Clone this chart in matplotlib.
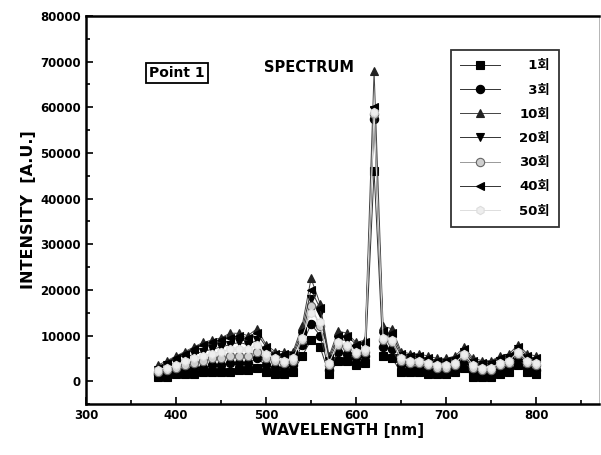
import matplotlib
matplotlib.use("Agg")
import matplotlib.pyplot as plt
from matplotlib.ticker import MultipleLocator

plt.rcParams['font.family'] = ['DejaVu Sans', 'Noto Sans CJK KR']

wavelength = [380, 390, 400, 410, 420, 430, 440, 450, 460, 470, 480, 490, 500,
              510, 520, 530, 540, 550, 560, 570, 580, 590, 600, 610, 620, 630,
              640, 650, 660, 670, 680, 690, 700, 710, 720, 730, 740, 750, 760,
              770, 780, 790, 800]

s1 = [1000, 1000, 1500, 1500, 1500, 2000, 2000, 2000, 2000, 2500, 2500, 3000, 2000,
      1500, 1500, 2000, 5500, 9000, 7500, 1500, 4500, 4500, 3500, 4000, 46000, 5500,
      5000, 2000, 2000, 2000, 1500, 1500, 1500, 2000, 3000, 1000, 1000, 1000, 1500,
      2000, 3500, 2000, 1500]
s3 = [1500, 2000, 2000, 2500, 3000, 3000, 3500, 3500, 4000, 4000, 4000, 5000, 3500,
      3000, 3000, 3500, 8000, 12500, 10000, 2500, 6500, 6000, 5000, 5500, 57500, 7500,
      7000, 3500, 3000, 3000, 2500, 2500, 2500, 3000, 4500, 2000, 2000, 2000, 2500,
      3000, 5000, 3000, 2500]
s10 = [3500, 4500, 5500, 6500, 7500, 8500, 9000, 9500, 10500, 10500, 10000, 11500, 8000,
       6500, 6500, 6500, 12000, 22500, 17000, 5500, 11000, 10500, 8500, 9000, 68000, 12000,
       11500, 6500, 6000, 6000, 5500, 5000, 5000, 5500, 7500, 5000, 4500, 4500, 5500,
       6000, 8000, 6000, 5500]
s20 = [2500, 3500, 4000, 5000, 6000, 6500, 7000, 7500, 8000, 8500, 8000, 9000, 6500,
       5500, 5000, 5500, 10000, 18000, 15000, 4500, 9000, 9000, 7000, 7500, 59500, 10000,
       9500, 5500, 5000, 5000, 4500, 4000, 4000, 4500, 6500, 4000, 3500, 3500, 4500,
       5000, 7000, 5000, 4500]
s30 = [2000, 2500, 3000, 3500, 4000, 4500, 5000, 5000, 5500, 5500, 5500, 6500, 5000,
       4500, 4000, 4500, 9000, 16500, 12000, 3500, 8000, 7500, 6000, 6500, 58500, 9000,
       8500, 4500, 4000, 4000, 3500, 3000, 3000, 3500, 5500, 3000, 2500, 2500, 3500,
       4000, 6000, 4000, 3500]
s40 = [3000, 4000, 5000, 6000, 7000, 8000, 8500, 9000, 9500, 10000, 9500, 10500, 7500,
       6000, 6000, 6000, 11000, 20000, 16000, 5000, 10000, 10000, 8000, 8500, 60000, 11000,
       10500, 6000, 5500, 5500, 5000, 4500, 4500, 5000, 7000, 4500, 4000, 4000, 5000,
       5500, 7500, 5500, 5000]
s50 = [2500, 3000, 3500, 4500, 5000, 5500, 6000, 6500, 7000, 7000, 7000, 8000, 6000,
       5000, 4500, 5000, 9500, 15000, 13000, 4000, 8500, 8000, 6500, 7000, 59000, 9500,
       9000, 5000, 4500, 4500, 4000, 3500, 3500, 4000, 6000, 3500, 3000, 3000, 4000,
       4500, 6500, 4500, 4000]

labels = ['\u20071회', '\u20073회', '10회', '20회', '30회', '40회', '50회']
series = [s1, s3, s10, s20, s30, s40, s50]
markers = ['s', 'o', '^', 'v', 'o', '<', 'h']
mfc = ['black', 'black', '#222222', 'black', '#cfcfcf', 'black', '#eeeeee']
mec = ['black', 'black', '#222222', 'black', '#666666', 'black', '#dddddd']
lcol = ['#333333', '#333333', '#444444', '#333333', '#999999', '#333333', '#dddddd']

fig = plt.figure(figsize=(6.01, 4.55), dpi=100)
ax = fig.add_axes([0.143, 0.112, 0.854, 0.853])

for y, lab, m, fc, ec, lc in zip(series, labels, markers, mfc, mec, lcol):
    ax.plot(wavelength, y, color=lc, lw=0.7, marker=m, markersize=6,
            markerfacecolor=fc, markeredgecolor=ec, markeredgewidth=0.8, label=lab)

ax.set_xlim(300, 870)
ax.set_ylim(-5000, 80000)
ax.xaxis.set_major_locator(MultipleLocator(100))
ax.xaxis.set_minor_locator(MultipleLocator(50))
ax.yaxis.set_major_locator(MultipleLocator(10000))
ax.yaxis.set_minor_locator(MultipleLocator(5000))
ax.tick_params(which='both', direction='in', top=False, right=False, width=1.2)
ax.tick_params(which='major', length=5, labelsize=8.5)
ax.tick_params(which='minor', length=3)
for lbl in ax.get_xticklabels() + ax.get_yticklabels():
    lbl.set_fontweight('bold')
for side in ['left', 'bottom', 'top']:
    ax.spines[side].set_linewidth(1.8)
ax.spines['right'].set_linewidth(0.6)
ax.spines['right'].set_color('#aaaaaa')

ax.set_xlabel('WAVELENGTH [nm]', fontsize=11, fontweight='bold', labelpad=1)
ax.set_ylabel('INTENSITY  [A.U.]', fontsize=11.5, fontweight='bold', labelpad=3)

ax.text(401, 67500, 'Point 1', fontsize=10, fontweight='bold', ha='center', va='center',
        bbox=dict(boxstyle='square,pad=0.25', fc='white', ec='black', lw=1.3))
ax.text(548, 68700, 'SPECTRUM', fontsize=10.5, fontweight='bold', ha='center', va='center')

leg = ax.legend(loc='upper right', bbox_to_anchor=(0.922, 0.912), borderaxespad=0,
                frameon=True, fancybox=False, edgecolor='black', borderpad=0.7,
                labelspacing=0.85, handlelength=3.0, handletextpad=1.5,
                prop={'weight': 'bold', 'size': 9.5})
leg.get_frame().set_linewidth(1.3)

fig.savefig('out.png', dpi=100)
